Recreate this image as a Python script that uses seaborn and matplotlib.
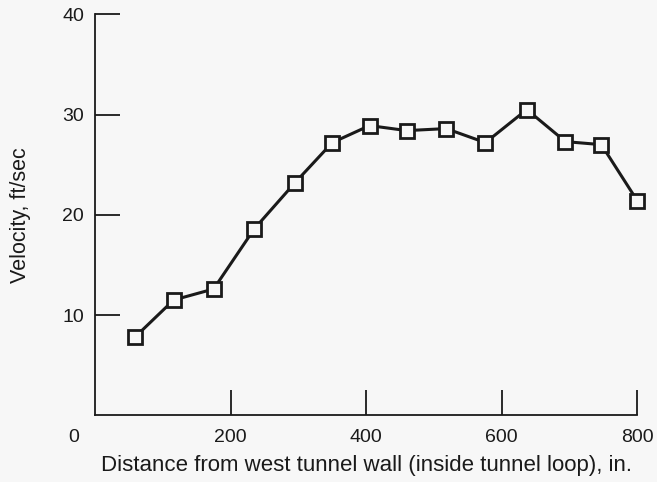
import matplotlib
matplotlib.use("Agg")
import matplotlib.pyplot as plt
import seaborn as sns
import pandas as pd

# distance from west tunnel wall (in.) and measured velocity (ft/sec)
distance = [59, 116, 175, 235, 295, 350, 405, 460, 518, 576, 637, 694, 747, 800]
velocity = [7.8, 11.5, 12.6, 18.6, 23.2, 27.2, 28.9, 28.4, 28.6, 27.2, 30.5, 27.3, 27.0, 21.4]
x_ticks = [200, 400, 600, 800]
y_ticks = [10, 20, 30, 40]

sns.set_style("white")
plt.rcParams["font.family"] = ["Liberation Sans", "DejaVu Sans"]

bg = "#f7f7f7"
ink = "#1a1a1a"

df = pd.DataFrame({"distance": distance, "velocity": velocity})

fig = plt.figure(figsize=(6.57, 4.82), dpi=100, facecolor=bg)
ax = fig.add_axes([0.1446, 0.1384, 0.8254, 0.8319])
ax.set_facecolor(bg)

sns.lineplot(data=df, x="distance", y="velocity", ax=ax, color=ink, linewidth=2.2,
             marker="s", markersize=10, markerfacecolor=bg, markeredgecolor=ink,
             markeredgewidth=2.0, clip_on=False)

ax.set_xlim(0, 800)
ax.set_ylim(0, 40)
ax.set_xticks(x_ticks)
ax.set_yticks(y_ticks)
ax.tick_params(direction="in", length=18, width=1.3, color=ink, labelsize=14,
               labelcolor=ink, bottom=True, left=True)
ax.tick_params(axis="x", pad=10)
ax.tick_params(axis="y", pad=8)

for side in ["top", "right"]:
    ax.spines[side].set_visible(False)
for side in ["left", "bottom"]:
    ax.spines[side].set_color(ink)
    ax.spines[side].set_linewidth(1.3)

# corner "0" label sits below-left of the origin
ax.text(-0.04, -0.034, "0", transform=ax.transAxes, ha="center", va="top",
        fontsize=14, color=ink)

ax.set_xlabel("Distance from west tunnel wall (inside tunnel loop), in.",
              fontsize=16, color=ink, labelpad=6)
ax.set_ylabel("Velocity, ft/sec", fontsize=15.5, color=ink, labelpad=22)

fig.savefig("out.png", dpi=100, facecolor=bg)
